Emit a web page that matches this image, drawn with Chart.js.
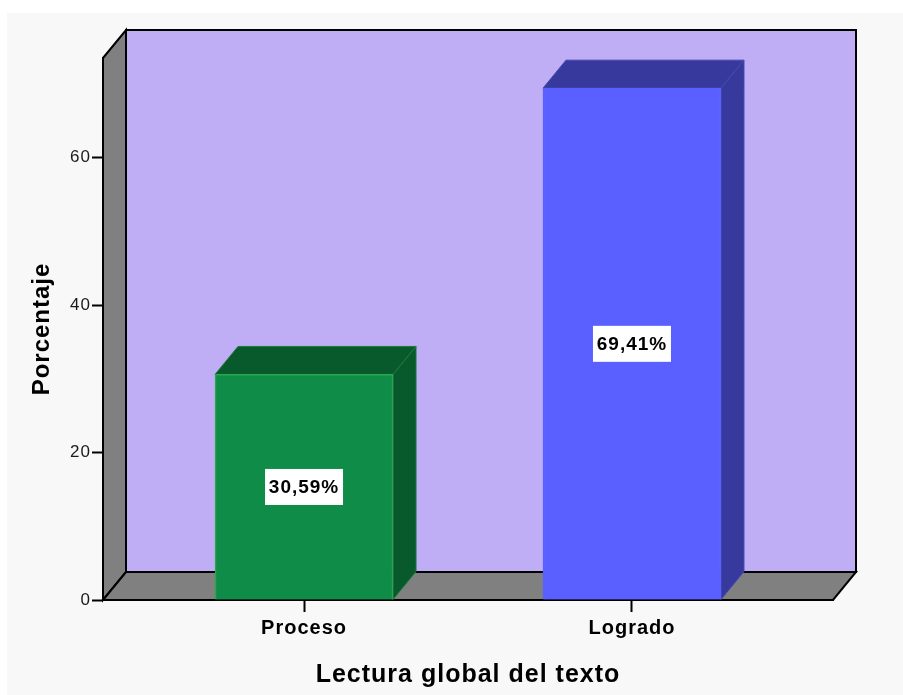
<!DOCTYPE html>
<html>
<head>
<meta charset="utf-8">
<script src="https://cdn.jsdelivr.net/npm/chart.js@4"></script>
<style>
  html, body { margin: 0; padding: 0; background: #fff; }
  canvas { display: block; }
</style>
</head>
<body>
<canvas id="grafico" width="903" height="695"></canvas>
<script>
// Datos
const categorias = ['Proceso', 'Logrado'];
const porcentajes = [30.59, 69.41];
const etiquetas = ['30,59%', '69,41%'];
const ticksY = [0, 20, 40, 60];

// Colores
const frente = ['#0f8c47', '#5a60ff'];
const bordes = ['#2aa650', '#5a60ff'];
const lados = ['#08592c', '#373a9c'];
const aristas = ['#1f7a3a', '#4448b0'];

// Profundidad del efecto 3D
const dx = 23, dy = -28;

function poly(ctx, pts, fill, stroke, ancho) {
  ctx.beginPath();
  pts.forEach((p, i) => i ? ctx.lineTo(p[0], p[1]) : ctx.moveTo(p[0], p[1]));
  ctx.closePath();
  ctx.fillStyle = fill;
  ctx.fill();
  if (stroke) {
    ctx.strokeStyle = stroke;
    ctx.lineWidth = ancho || 2;
    ctx.stroke();
  }
}

const caja3d = {
  id: 'caja3d',
  // el lienzo pierde el estado al redimensionarse, por eso se pone aqui
  beforeUpdate(chart) {
    chart.ctx.letterSpacing = '1px';
  },
  beforeDraw(chart) {
    const ctx = chart.ctx;
    const { left, right, top, bottom } = chart.chartArea;
    ctx.save();
    ctx.fillStyle = '#fff';
    ctx.fillRect(0, 0, chart.width, chart.height);
    ctx.fillStyle = '#f8f8f8';
    ctx.fillRect(7, 13, chart.width - 7, chart.height - 13);
    // paredes
    poly(ctx, [[left + dx, top + dy], [right + dx, top + dy], [right + dx, bottom + dy], [left + dx, bottom + dy]], '#bfaef5', '#000');
    poly(ctx, [[left, top], [left + dx, top + dy], [left + dx, bottom + dy], [left, bottom]], '#808080', '#000');
    poly(ctx, [[left, bottom], [left + dx, bottom + dy], [right + dx, bottom + dy], [right, bottom]], '#808080', '#000');
    ctx.restore();
  },
  beforeDatasetsDraw(chart) {
    const ctx = chart.ctx;
    ctx.save();
    chart.getDatasetMeta(0).data.forEach((bar, i) => {
      const izq = bar.x - bar.width / 2, der = bar.x + bar.width / 2;
      poly(ctx, [[izq, bar.y], [izq + dx, bar.y + dy], [der + dx, bar.y + dy], [der, bar.y]], lados[i], aristas[i], 1);
      poly(ctx, [[der, bar.y], [der + dx, bar.y + dy], [der + dx, bar.base + dy], [der, bar.base]], lados[i], aristas[i], 1);
    });
    ctx.restore();
  },
  afterDatasetsDraw(chart) {
    const ctx = chart.ctx;
    ctx.save();
    ctx.font = 'bold 19px "Liberation Sans"';
    ctx.textAlign = 'center';
    ctx.textBaseline = 'middle';
    chart.getDatasetMeta(0).data.forEach((bar, i) => {
      const cy = (bar.y + bar.base) / 2;
      ctx.fillStyle = '#fff';
      ctx.fillRect(bar.x - 39, cy - 18, 78, 36);
      ctx.fillStyle = '#000';
      ctx.fillText(etiquetas[i], bar.x, cy + 1);
    });
    ctx.restore();
  }
};

new Chart(document.getElementById('grafico'), {
  type: 'bar',
  data: {
    datasets: [{
      data: porcentajes.map((v, i) => ({ x: i + 1, y: v })),
      backgroundColor: frente,
      borderColor: bordes,
      borderWidth: 1.5,
      barThickness: 178
    }]
  },
  options: {
    responsive: false,
    animation: false,
    events: [],
    layout: { padding: { left: 0, right: 70, top: 58, bottom: 0 } },
    plugins: { legend: { display: false }, tooltip: { enabled: false } },
    scales: {
      x: {
        type: 'linear',
        offset: false,
        min: 0.387,
        max: 2.613,
        afterBuildTicks: s => { s.ticks = categorias.map((c, i) => ({ value: i + 1 })); },
        afterFit: s => { s.height = 95; },
        grid: { offset: false, drawOnChartArea: false, tickLength: 12, tickColor: '#000', tickWidth: 2 },
        border: { color: '#000', width: 2 },
        ticks: {
          callback: v => categorias[v - 1],
          color: '#000',
          padding: 4,
          maxRotation: 0,
          font: { family: '"Liberation Sans"', size: 20, weight: 'bold' }
        },
        title: {
          display: true,
          text: 'Lectura global del texto',
          color: '#000',
          padding: { top: 0, bottom: 5 },
          font: { family: '"Liberation Sans"', size: 25, weight: 'bold' }
        }
      },
      y: {
        min: 0,
        max: 73.5,
        afterBuildTicks: s => { s.ticks = ticksY.map(v => ({ value: v })); },
        afterFit: s => { s.width = 103; },
        grid: { drawOnChartArea: false, tickLength: 11, tickColor: '#000', tickWidth: 2 },
        border: { color: '#000', width: 2 },
        ticks: {
          color: '#1a1a1a',
          padding: 1,
          font: { family: '"Liberation Sans"', size: 17 }
        },
        title: {
          display: true,
          text: 'Porcentaje',
          color: '#000',
          padding: { top: 28, bottom: 0 },
          font: { family: '"Liberation Sans"', size: 24, weight: 'bold' }
        }
      }
    }
  },
  plugins: [caja3d]
});
</script>
</body>
</html>
